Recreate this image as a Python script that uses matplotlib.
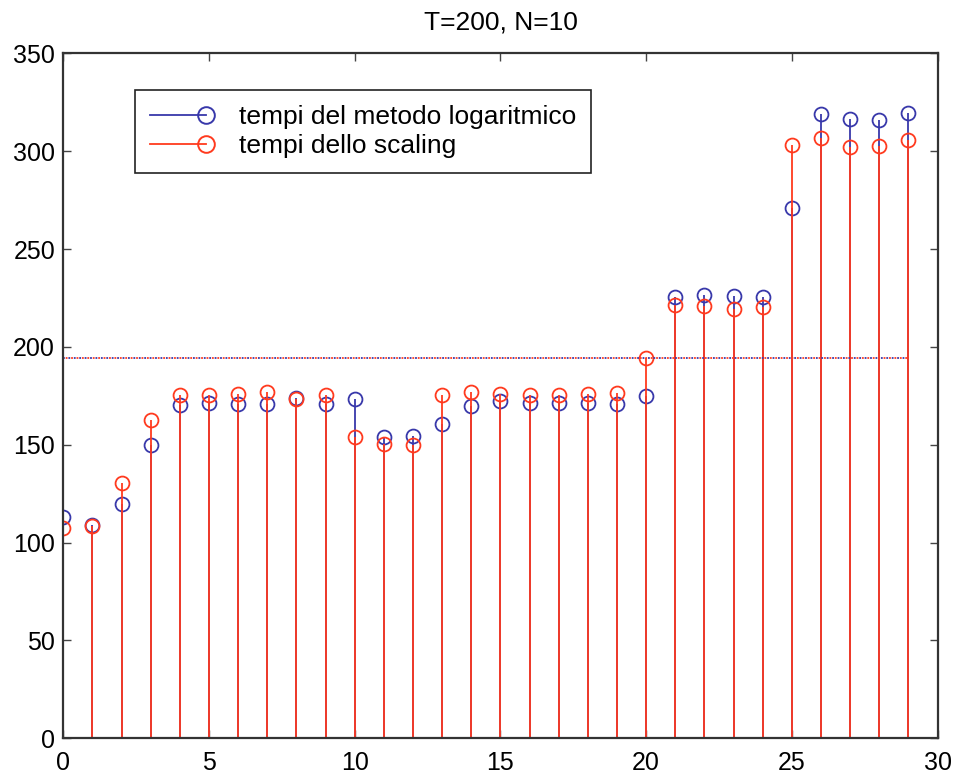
import numpy as np
import matplotlib
matplotlib.use("Agg")
import matplotlib.pyplot as plt
from matplotlib.lines import Line2D
from matplotlib.legend_handler import HandlerLine2D

plt.rcParams['font.family'] = ['Liberation Sans', 'DejaVu Sans']

# ---- data ----
x_vals = list(range(30))
tempi_log = [112.9, 108.9, 119.8, 149.7, 170.3, 171.2, 170.7, 171.0, 174.1, 170.7,
             173.6, 153.9, 154.4, 160.8, 169.8, 172.3, 171.5, 171.5, 171.5, 170.7,
             174.9, 225.6, 226.5, 225.8, 225.6, 270.9, 319.1, 316.6, 315.7, 319.5]
tempi_scaling = [107.5, 108.3, 130.6, 162.5, 175.4, 175.4, 175.8, 177.0, 173.2, 175.4,
                 153.9, 150.2, 149.7, 175.4, 177.2, 175.8, 175.4, 175.4, 175.8, 176.6,
                 194.1, 221.3, 221.0, 219.3, 220.2, 303.3, 306.9, 302.1, 302.4, 305.8]
mean_log = 194.2
mean_scaling = 194.4
label_log = 'tempi del metodo logaritmico'
label_scaling = 'tempi dello scaling'
title = 'T=200, N=10'
xticks = [0, 5, 10, 15, 20, 25, 30]
yticks = [0, 50, 100, 150, 200, 250, 300, 350]

BLUE = '#3838aa'
RED = '#ff3a1e'

fig = plt.figure(figsize=(9.54, 7.78), dpi=100)
ax = fig.add_axes([0.0664, 0.051, 0.9164, 0.8805])

ms = 10
for vals, col in ((tempi_log, BLUE), (tempi_scaling, RED)):
    ml, sl, bl = ax.stem(x_vals, vals, linefmt='-', markerfmt='o', basefmt=' ')
    sl.set_color(col)
    sl.set_linewidth(1.3)
    ml.set_markerfacecolor('none')
    ml.set_markeredgecolor(col)
    ml.set_markersize(ms)
    ml.set_markeredgewidth(1.3)
    bl.set_visible(False)

ax.plot([x_vals[0], x_vals[-1]], [mean_log, mean_log], linestyle=(0, (1, 2)),
        color=BLUE, linewidth=1.3)
ax.plot([x_vals[0], x_vals[-1]], [mean_scaling, mean_scaling], linestyle=(1.5, (1, 2)),
        color=RED, linewidth=1.3)

ax.set_xlim(0, 30)
ax.set_ylim(0, 350)
ax.set_xticks(xticks)
ax.set_yticks(yticks)
ax.tick_params(direction='in', top=True, right=True, labelsize=18, length=6,
               width=1, color='#444444')
ax.tick_params(axis='x', pad=9)
ax.tick_params(axis='y', pad=6)
for s in ax.spines.values():
    s.set_linewidth(1.6)
    s.set_color('#333333')
ax.set_title(title, fontsize=19, pad=17)


class EndMarkerHandler(HandlerLine2D):
    def create_artists(self, legend, orig_handle, xdescent, ydescent, width, height,
                       fontsize, trans):
        y = (height - ydescent) / 2
        x0, x1 = -xdescent, width - xdescent
        line = Line2D([x0, x1], [y, y], color=orig_handle.get_color(), linewidth=1.3,
                      marker='o', markevery=[1], markersize=12,
                      markerfacecolor='none', markeredgecolor=orig_handle.get_color(),
                      markeredgewidth=1.4)
        line.set_transform(trans)
        return [line]


h1 = Line2D([], [], color=BLUE)
h2 = Line2D([], [], color=RED)
leg = ax.legend([h1, h2], [label_log, label_scaling], loc='upper left',
                bbox_to_anchor=(0.082, 0.946), fontsize=19, fancybox=False,
                edgecolor='#222222', framealpha=1, handlelength=2.15,
                handler_map={h1: EndMarkerHandler(), h2: EndMarkerHandler()},
                borderpad=0.55, labelspacing=0.2, handletextpad=1.25, borderaxespad=0)
leg.get_frame().set_linewidth(1.2)

fig.savefig('out.png', dpi=100)
